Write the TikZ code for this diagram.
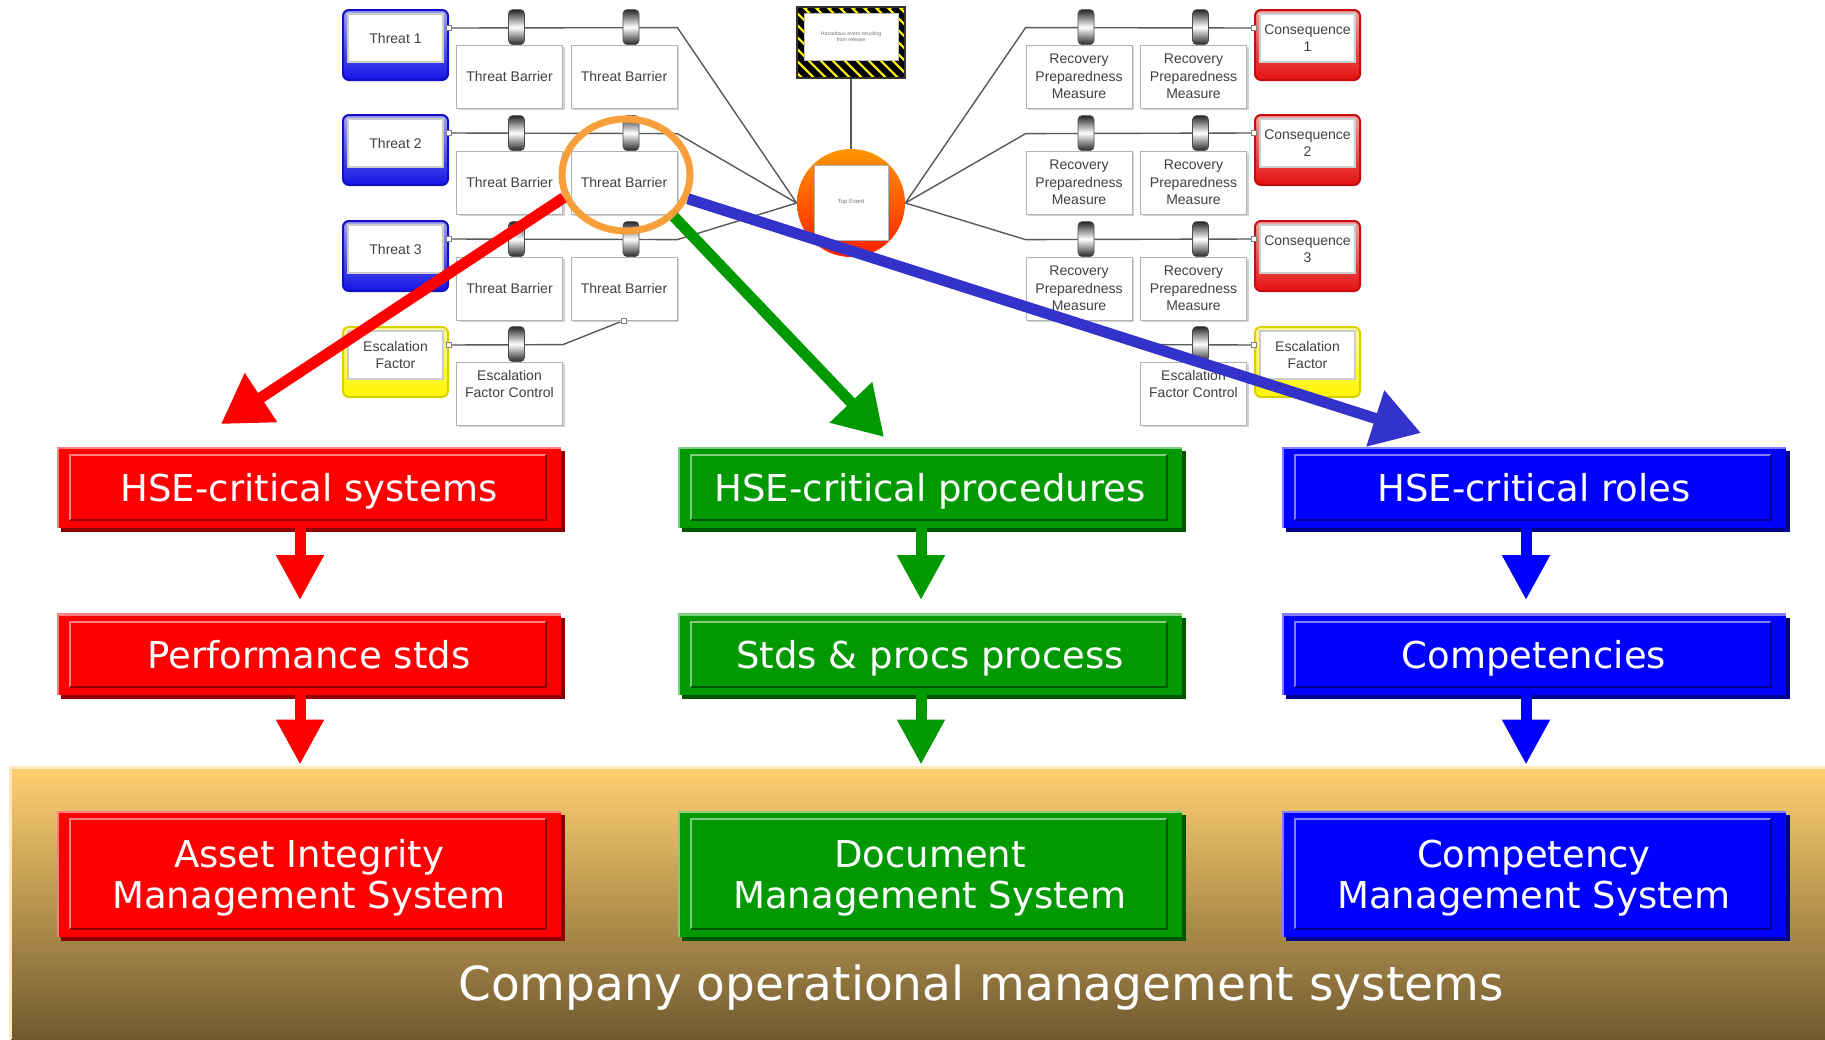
\documentclass[tikz,border=0pt]{standalone}
\usepackage{fontspec}
\setmainfont{DejaVu Sans}
\newfontfamily\bowfont{Liberation Sans}
\usetikzlibrary{arrows.meta,calc,shadows,shapes.geometric,backgrounds}

\definecolor{hsered}{RGB}{255,0,0}
\definecolor{hsegreen}{RGB}{0,153,0}
\definecolor{hseblue}{RGB}{0,0,255}
\definecolor{arrowblue}{RGB}{51,51,204}
\definecolor{ringorange}{RGB}{248,158,58}
\definecolor{threatblue}{RGB}{20,20,230}
\definecolor{conseqred}{RGB}{228,16,16}
\definecolor{escyellow}{RGB}{255,245,0}
\definecolor{teorange}{RGB}{255,150,0}
\definecolor{tered}{RGB}{255,30,0}
\definecolor{paneltop}{RGB}{255,208,112}
\definecolor{panelbot}{RGB}{112,90,48}

\tikzset{
  bowline/.style={draw=black!65, line width=0.7pt},
  barbox/.style={draw=gray!60, fill=white, minimum width=53pt, minimum height=31.5pt,
    inner sep=1pt, align=center, text=black!75, font=\bowfont\fontsize{7}{8.75}\selectfont,
    general shadow={fill=gray!35, shadow xshift=1.2pt, shadow yshift=-1.2pt}},
  barclip/.style={draw=black!70, line width=0.3pt, rounded corners=2pt, minimum width=8pt,
    minimum height=17.5pt, inner sep=0pt, top color=black!85, bottom color=black!85, middle color=white},
  endframe/.style={draw=#1!85!black, line width=1pt, rounded corners=3pt, minimum width=52.5pt,
    minimum height=35pt, inner sep=0pt, top color=#1!40!white, bottom color=#1,
    path picture={\fill[white, draw=gray!40, sharp corners]
      ([xshift=2.5pt,yshift=9pt]path picture bounding box.south west) rectangle
      ([xshift=-2.5pt,yshift=-2pt]path picture bounding box.north east);}},
  endtext/.style={align=center, text=black!75, inner sep=0pt, font=\bowfont\fontsize{7}{8.75}\selectfont},
  port/.style={draw=gray, fill=white, minimum size=2.5pt, inner sep=0pt},
  bigarrow/.style={line width=5.5pt, -{Triangle[width=28pt,length=24pt]}},
  hsearrow/.style={line width=5.5pt, shorten >=6.5pt, -{Triangle[width=22.5pt,length=22.5pt]}},
  hsebox/.style={fill=#1, minimum width=252pt, minimum height=40.5pt, inner sep=0pt,
    text=white, align=center, text depth=0pt, font=\fontsize{18.5}{20.5}\selectfont,
    general shadow={fill=#1!55!black, shadow xshift=2pt, shadow yshift=-2pt},
    path picture={
      \draw[#1!50!white, line width=2pt] (path picture bounding box.south west)
        |- (path picture bounding box.north east);
      \draw[#1!50!white, line width=1pt] ([xshift=6.5pt,yshift=4pt]path picture bounding box.south west)
        |- ([xshift=-7.5pt,yshift=-4pt]path picture bounding box.north east);
      \draw[#1!55!black, line width=1pt] ([xshift=6.5pt,yshift=4pt]path picture bounding box.south west)
        -| ([xshift=-7.5pt,yshift=-4pt]path picture bounding box.north east);}},
  panel/.style={minimum width=907pt, minimum height=135.5pt, inner sep=0pt,
    top color=paneltop, bottom color=panelbot}
}

% barrier box with its clip sitting on the line
\def\barrier(#1,#2)#3#4{%
  \node[barbox] (#3) at (#1,#2) {#4};
  \node[barclip] (#3c) at ($(#3.north)+(7,-17.5)$) {};}
% threat / consequence / escalation factor frame
\def\endbox(#1,#2)[#3]#4#5{%
  \node[endframe=#3] (#4) at (#1,#2) {};
  \node[endtext] (#4t) at ($(#4)+(0,-7)$) {#5};}

\begin{document}
\begin{tikzpicture}[x=0.5pt, y=-0.5pt]
  \useasboundingbox (0,0) rectangle (1825,1039);
  \begin{pgfonlayer}{background}
    \fill[white] (0,0) rectangle (1825,1039);
  \end{pgfonlayer}

  %%%%% bow-tie, threat side %%%%%
  \endbox(395.5,45)[threatblue]{t1}{Threat 1}
  \endbox(395.5,150)[threatblue]{t2}{Threat 2}
  \endbox(395.5,256)[threatblue]{t3}{Threat 3}
  \endbox(395.5,362)[escyellow]{ef1}{Escalation\\Factor}

  \barrier(509.5,76.5){b11}{Threat Barrier}
  \barrier(624,76.5){b12}{Threat Barrier}
  \barrier(509.5,182.5){b21}{Threat Barrier}
  \barrier(624,182.5){b22}{Threat Barrier}
  \barrier(509.5,288.5){b31}{Threat Barrier}
  \barrier(624,288.5){b32}{Threat Barrier}
  \barrier(509.5,393.5){e1}{}
  \node[endtext] (e1t) at ($(e1)+(0,-9.5)$) {Escalation\\Factor Control};

  %%%%% hazard and top event %%%%%
  \node[draw=black!80, line width=0.8pt, minimum width=54pt, minimum height=35.5pt, inner sep=0pt,
    path picture={
      \fill[escyellow] (path picture bounding box.south west) rectangle (path picture bounding box.north east);
      \foreach \k in {-8,...,10}
        \draw[black, line width=3pt] ([xshift=\k*6pt]path picture bounding box.north west) -- ++(40pt,-40pt);
    }] (haz) at (851,42.5) {};
  \node[fill=white, draw=gray!50, minimum width=47pt, minimum height=23.5pt, inner sep=0pt,
    text=black!55, align=center, font=\bowfont\fontsize{2.6}{3.2}\selectfont] (hazt) at (851,36.5)
    {Hazardous event resulting\\from release};
  \node[circle, minimum size=54pt, inner sep=0pt, top color=teorange, bottom color=tered] (te) at (851,203) {};
  \node[fill=white, draw=gray!60, minimum width=37pt, minimum height=37.5pt, inner sep=0pt,
    text=black!55, font=\bowfont\fontsize{3}{3.5}\selectfont] (tet) at (851,202.5) {Top Event};

  %%%%% bow-tie, consequence side %%%%%
  \barrier(1079,76.5){r11}{Recovery\\Preparedness\\Measure}
  \barrier(1193.5,76.5){r12}{Recovery\\Preparedness\\Measure}
  \barrier(1079,182.5){r21}{Recovery\\Preparedness\\Measure}
  \barrier(1193.5,182.5){r22}{Recovery\\Preparedness\\Measure}
  \barrier(1079,288.5){r31}{Recovery\\Preparedness\\Measure}
  \barrier(1193.5,288.5){r32}{Recovery\\Preparedness\\Measure}
  \barrier(1193.5,393.5){e2}{}
  \node[endtext] (e2t) at ($(e2)+(0,-9.5)$) {Escalation\\Factor Control};

  \endbox(1307.5,45)[conseqred]{c1}{Consequence\\1}
  \endbox(1307.5,150)[conseqred]{c2}{Consequence\\2}
  \endbox(1307.5,256)[conseqred]{c3}{Consequence\\3}
  \endbox(1307.5,362)[escyellow]{ef2}{Escalation\\Factor}

  % lines run behind the clips
  \begin{pgfonlayer}{background}
    \draw[bowline] ($(t1.east)+(0,-17)$) -- ($(b12.north east)+(0,-17)$) -- (te.west);
    \draw[bowline] ($(t2.east)+(0,-17)$) -- ($(b22.north east)+(0,-17)$) -- (te.west);
    \draw[bowline] ($(t3.east)+(0,-17)$) -- ($(b32.north east)+(0,-17)$) -- (te.west);
    \draw[bowline] ($(ef1.east)+(0,-17)$) -- ($(e1.north east)+(0,-17)$) -- (b32.south);
    \draw[bowline] (te.east) -- ($(r11.north west)+(0,-17)$) -- ($(c1.west)+(0,-17)$);
    \draw[bowline] (te.east) -- ($(r21.north west)+(0,-17)$) -- ($(c2.west)+(0,-17)$);
    \draw[bowline] (te.east) -- ($(r31.north west)+(0,-17)$) -- ($(c3.west)+(0,-17)$);
    \draw[bowline] ($(ef2.west)+(0,-17)$) -- ($(e2.north west)+(0,-17)$) -- (r31.south);
    \draw[bowline] (haz.south) -- (te.north);
  \end{pgfonlayer}
  \foreach \n in {t1,t2,t3,ef1}
    \node[port] (p\n) at ($(\n.east)+(0,-17)$) {};
  \foreach \n in {c1,c2,c3,ef2}
    \node[port] (p\n) at ($(\n.west)+(0,-17)$) {};
  \node[port] (pb32) at (b32.south) {};

  %%%%% highlighted barrier and where it leads %%%%%
  \node[ellipse, draw=ringorange, line width=3.5pt, minimum width=64pt, minimum height=56pt] (ring) at (626,175) {};
  \coordinate (redtip) at (221,424);
  \coordinate (greentip) at (884,437);
  \coordinate (bluetip) at (1421,433);
  \draw[bigarrow, hsered] (ring.200) -- (redtip);
  \draw[bigarrow, hsegreen] (ring.319) -- (greentip);
  \draw[bigarrow, arrowblue] (ring.339) -- (bluetip);

  %%%%% three columns %%%%%
  \node[hsebox=hsered] (sys) at (309,487.5) {HSE-critical systems};
  \node[hsebox=hsegreen] (proc) at (930,487.5) {HSE-critical procedures};
  \node[hsebox=hseblue] (roles) at (1534,487.5) {HSE-critical roles};
  \node[hsebox=hsered] (perf) at (309,654) {Performance stds};
  \node[hsebox=hsegreen] (stds) at (930,654) {Stds \& procs process};
  \node[hsebox=hseblue] (comp) at (1534,654) {Competencies};

  \node[panel] (base) at (918,903.5) {};
  \draw[paneltop!45!white, line width=1.5pt] (base.south west) -- (base.north west) -- (base.north east);

  \draw[hsearrow, hsered] ([xshift=-4.5pt]sys.south) -- ([xshift=-4.5pt]perf.north);
  \draw[hsearrow, hsegreen] ([xshift=-4.5pt]proc.south) -- ([xshift=-4.5pt]stds.north);
  \draw[hsearrow, hseblue] ([xshift=-4pt]roles.south) -- ([xshift=-4pt]comp.north);
  \draw[hsearrow, hsered, shorten >=1.5pt] ([xshift=-4.5pt]perf.south) -- ([xshift=-4.5pt]perf.south |- base.north);
  \draw[hsearrow, hsegreen, shorten >=1.5pt] ([xshift=-4.5pt]stds.south) -- ([xshift=-4.5pt]stds.south |- base.north);
  \draw[hsearrow, hseblue, shorten >=1.5pt] ([xshift=-4pt]comp.south) -- ([xshift=-4pt]comp.south |- base.north);

  \node[hsebox=hsered, minimum height=63pt] (aims) at (309,874) {Asset Integrity\\Management System};
  \node[hsebox=hsegreen, minimum height=63pt] (dms) at (930,874) {Document\\Management System};
  \node[hsebox=hseblue, minimum height=63pt] (cms) at (1534,874) {Competency\\Management System};
  \node[anchor=base, text=white, inner sep=0pt, font=\fontsize{23.5}{28}\selectfont] (opsys) at (981,1000)
    {Company operational management systems};
\end{tikzpicture}
\end{document}
